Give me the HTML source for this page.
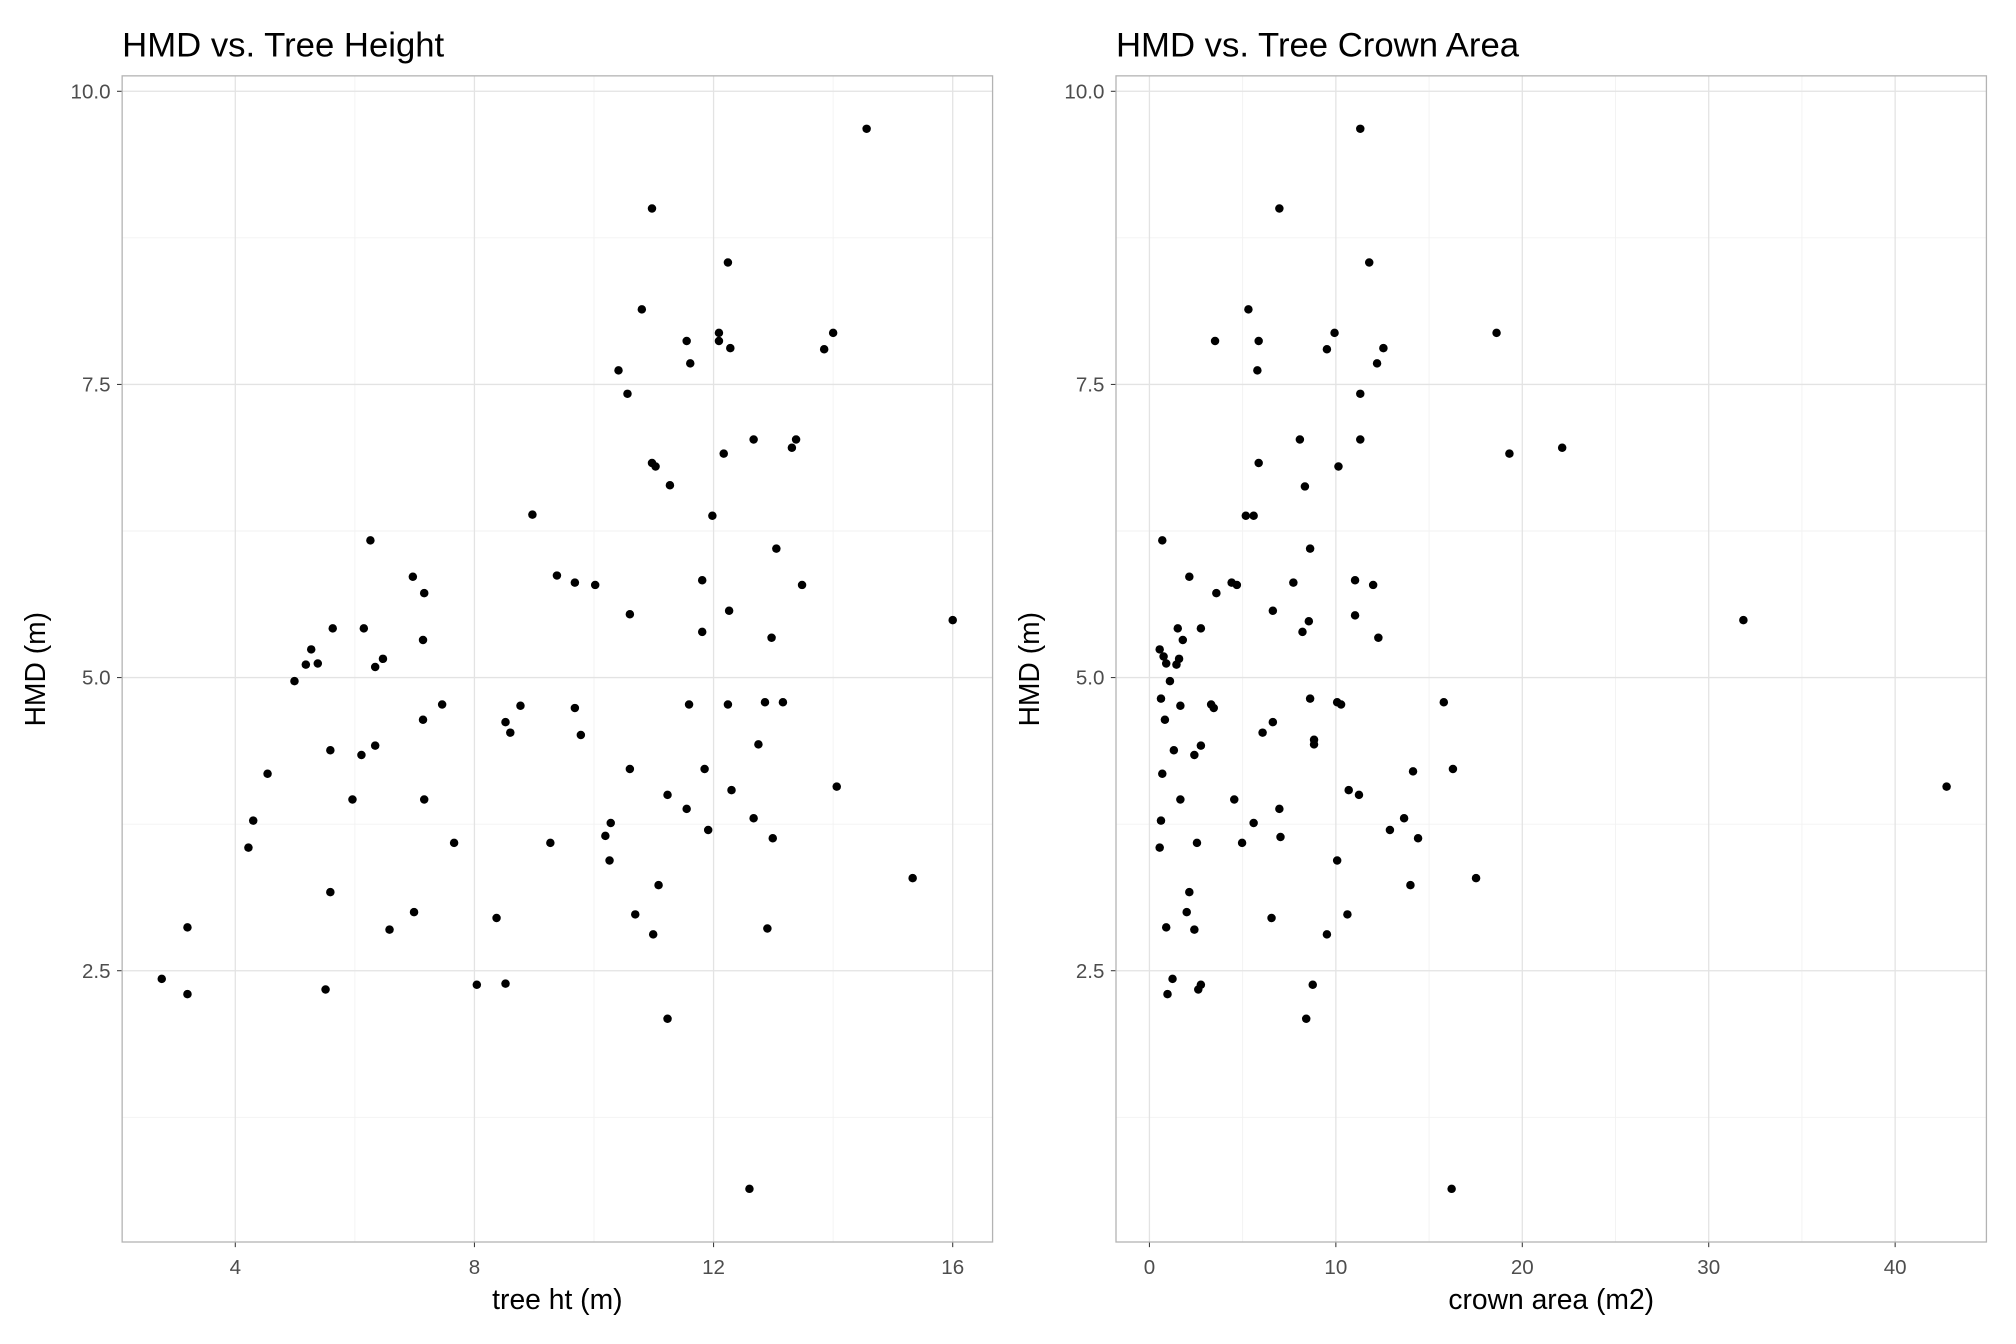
<!DOCTYPE html>
<html><head><meta charset="utf-8"><style>
html,body{margin:0;padding:0;background:#fff;}
svg{display:block;font-family:"Liberation Sans",Arial,sans-serif;}
</style></head><body>
<svg id="chart" width="2016" height="1344" viewBox="0 0 1568 1045.33" xmlns="http://www.w3.org/2000/svg"></svg>
<script>
const htL=[2.77,3.20,3.20,4.22,4.30,4.54,4.99,5.18,5.27,5.38,5.59,5.59,5.63,5.51,5.96,6.11,6.15,6.26,6.34,6.34,6.47,6.58,6.97,6.99,7.16,7.14,7.14,7.16,7.46,7.66,8.04,8.37,8.52,8.52,8.60,8.77,8.97,9.27,9.38,9.68,9.68,9.78,10.02,10.19,10.26,10.28,10.41,10.56,10.60,10.60,10.69,10.97,10.99,10.97,11.03,11.08,11.23,11.23,11.27,10.80,11.55,11.61,11.55,11.59,11.81,11.81,11.85,11.91,11.98,12.09,12.09,12.17,12.24,12.24,12.26,12.28,12.30,12.67,12.67,12.75,12.86,12.90,12.97,12.99,13.05,13.16,13.31,13.38,13.48,13.85,14.00,14.06,14.56,12.60,15.33,16.00];
const hmdL=[2.43,2.87,2.30,3.55,3.78,4.18,4.97,5.11,5.24,5.12,4.38,3.17,5.42,2.34,3.96,4.34,5.42,6.17,5.09,4.42,5.16,2.85,5.86,3.00,5.72,5.32,4.64,3.96,4.77,3.59,2.38,2.95,4.62,2.39,4.53,4.76,6.39,3.59,5.87,5.81,4.74,4.51,5.79,3.65,3.44,3.76,7.62,7.42,5.54,4.22,2.98,9.00,2.81,6.83,6.80,3.23,2.09,4.00,6.64,8.14,7.87,7.68,3.88,4.77,5.83,5.39,4.22,3.70,6.38,7.94,7.87,6.91,4.77,8.54,5.57,7.81,4.04,7.03,3.80,4.43,4.79,2.86,5.34,3.63,6.10,4.79,6.96,7.03,5.79,7.80,7.94,4.07,9.68,0.64,3.29,5.49];
const crownR=[0.69,0.55,0.62,0.76,0.90,0.83,0.69,0.62,0.55,0.90,0.97,1.10,1.24,1.31,1.45,1.52,1.59,1.66,1.66,1.79,2.00,2.14,2.14,2.41,2.41,2.55,2.62,2.76,2.76,2.76,3.31,3.45,3.52,3.59,4.41,4.55,4.69,4.97,5.17,5.59,5.59,5.79,5.86,5.86,6.07,6.55,6.62,6.62,6.97,6.97,7.03,8.07,8.34,8.41,8.55,8.62,8.62,8.76,8.83,8.83,7.72,8.21,9.52,9.52,9.93,10.07,10.07,10.14,10.28,10.62,10.69,11.03,11.03,11.24,11.31,11.31,11.31,11.79,12.00,12.21,12.28,12.55,12.90,13.66,14.00,14.14,14.41,15.79,16.21,16.28,17.52,18.62,19.31,22.14,31.86,42.76,5.31];
const hmdR=[6.17,5.24,4.82,5.18,5.12,4.64,4.18,3.78,3.55,2.87,2.30,4.97,2.43,4.38,5.11,5.42,5.16,3.96,4.76,5.32,3.00,5.86,3.17,2.85,4.34,3.59,2.34,2.38,5.42,4.42,4.77,4.74,7.87,5.72,5.81,3.96,5.79,3.59,6.38,6.38,3.76,7.62,7.87,6.83,4.53,2.95,5.57,4.62,9.00,3.88,3.64,7.03,6.63,2.09,5.48,6.10,4.82,2.38,4.47,4.43,5.81,5.39,2.81,7.80,7.94,4.79,3.44,6.80,4.77,2.98,4.04,5.83,5.53,4.00,7.42,7.03,9.68,8.54,5.79,7.68,5.34,7.81,3.70,3.80,3.23,4.20,3.63,4.79,0.64,4.22,3.29,7.94,6.91,6.96,5.49,4.07,8.14];
const yTicks=[2.5,5.0,7.5,10.0];
const yMinor=[1.25,3.75,6.25,8.75];
const xTicksL=[4,8,12,16];
const xMinorL=[6,10,14];
const xTicksR=[0,10,20,30,40];
const xMinorR=[5,15,25,35];

const svg=document.getElementById('chart');
const NS='http://www.w3.org/2000/svg';
function mk(tag,attrs,parent){const e=document.createElementNS(NS,tag);for(const k in attrs)e.setAttribute(k,attrs[k]);(parent||svg).appendChild(e);return e;}
const yS=v=>71+(10-v)*91.2;
const panels=[
 {name:'height',x0:95,x1:772,xs:v=>183+(v-4)*46.5,xt:xTicksL,xm:xMinorL,xd:htL,yd:hmdL,title:'HMD vs. Tree Height',xl:'tree ht (m)'},
 {name:'crown',x0:868,x1:1545,xs:v=>894+v*14.5,xt:xTicksR,xm:xMinorR,xd:crownR,yd:hmdR,title:'HMD vs. Tree Crown Area',xl:'crown area (m2)'}
];
const y0=59,y1=966;
panels.forEach(p=>{
 const g=mk('g',{});
 
 
 yMinor.forEach(v=>{const l=mk('line',{x1:p.x0,x2:p.x1,y1:yS(v),y2:yS(v),stroke:'#f2f2f2','stroke-width':0.7},g);});
 p.xm.forEach(v=>{const l=mk('line',{x1:p.xs(v),x2:p.xs(v),y1:y0,y2:y1,stroke:'#f2f2f2','stroke-width':0.7},g);});
 yTicks.forEach(v=>{const l=mk('line',{x1:p.x0,x2:p.x1,y1:yS(v),y2:yS(v),stroke:'#e3e3e3','stroke-width':1},g);
   const t=mk('text',{x:p.x0-9,y:yS(v)+5.5,'text-anchor':'end','font-size':16,fill:'#4d4d4d'},g);t.textContent=v.toFixed(1);
   mk('line',{x1:p.x0-4,x2:p.x0,y1:yS(v),y2:yS(v),stroke:'#333','stroke-width':0.8},g);});
 p.xt.forEach(v=>{const l=mk('line',{x1:p.xs(v),x2:p.xs(v),y1:y0,y2:y1,stroke:'#e3e3e3','stroke-width':1},g);
   const t=mk('text',{x:p.xs(v),y:y1+25,'text-anchor':'middle','font-size':16,fill:'#4d4d4d'},g);t.textContent=String(v);
   mk('line',{x1:p.xs(v),x2:p.xs(v),y1:y1,y2:y1+4,stroke:'#333','stroke-width':0.8},g);});
 const b=mk('rect',{x:p.x0,y:y0,width:p.x1-p.x0,height:y1-y0,fill:'none',stroke:'#b3b3b3','stroke-width':1},g);
 
 p.xd.forEach((v,i)=>{const c=mk('circle',{cx:p.xs(v),cy:yS(p.yd[i]),r:3.3,fill:'#000'},g);});
 const tt=mk('text',{x:p.x0,y:44,'font-size':27,fill:'#000'},g);tt.textContent=p.title;
 const xl=mk('text',{x:(p.x0+p.x1)/2,y:1018,'text-anchor':'middle','font-size':22,fill:'#000'},g);xl.textContent=p.xl;
 const cy=(y0+y1)/2, ax=p.x0-52;
 const yl=mk('text',{x:ax,y:cy,'text-anchor':'middle','font-size':22,fill:'#000',transform:'rotate(-90 '+(ax-8)+' '+cy+')'},g);
 yl.setAttribute('x',ax-8);yl.setAttribute('y',cy+8);
 yl.setAttribute('transform','rotate(-90 '+(ax-8)+' '+(cy+8)+')');
 yl.textContent='HMD (m)';
});
</script>
</body></html>
